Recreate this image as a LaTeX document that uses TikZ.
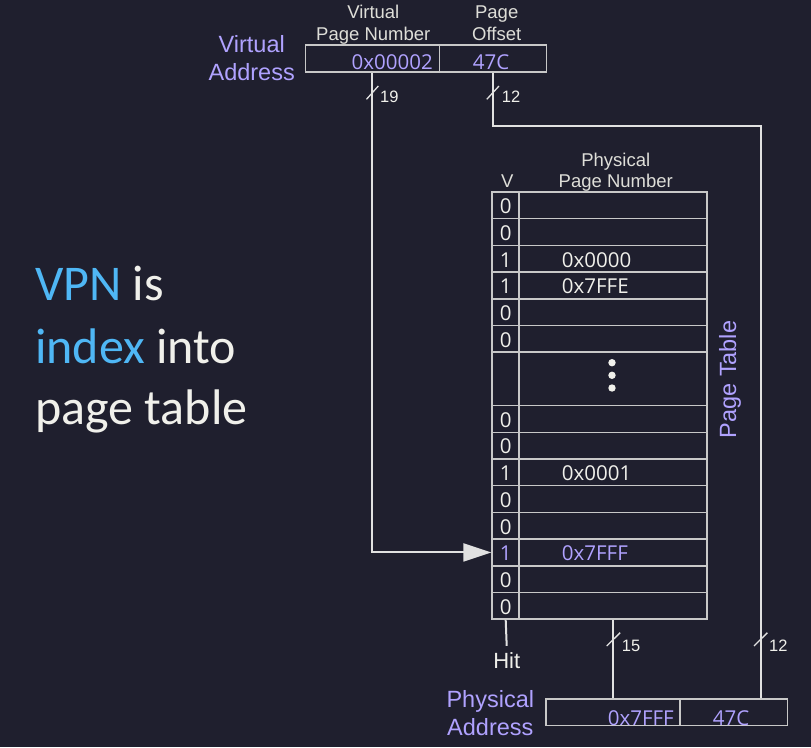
\documentclass[tikz,border=0pt]{standalone}
\usepackage{fontspec}
\setmainfont{Liberation Sans}
\newfontfamily\numfont{Open Sans}
\newfontfamily\calfont{Carlito}
\usetikzlibrary{arrows.meta}
\definecolor{bg}{RGB}{31,31,46}
\definecolor{lav}{RGB}{176,162,255}
\definecolor{vpnblue}{RGB}{79,183,245}
\definecolor{txt}{RGB}{240,240,235}
\definecolor{hdr}{RGB}{222,222,216}
\definecolor{tline}{RGB}{200,200,200}
\definecolor{cline}{RGB}{225,225,225}
\begin{document}
\begin{tikzpicture}[x=1pt,y=-1pt,
  cell/.style={draw=tline,line width=1.5pt,inner sep=0pt,minimum height=26.7pt},
  box/.style={draw=tline,line width=1.5pt,inner sep=0pt,minimum height=26.7pt},
  conn/.style={draw=cline,line width=2pt},
  slash/.style={draw=cline,line width=1.3pt},
  lab/.style={inner sep=0pt,font=\fontsize{23.5}{27}\selectfont,text=lav,align=center},
  hdrtxt/.style={inner sep=0pt,font=\fontsize{18.5}{21.5}\selectfont,text=hdr,align=center},
  num/.style={inner sep=0pt,font=\numfont\fontsize{20.5}{24}\selectfont,text=txt},
  lnum/.style={inner sep=0pt,font=\numfont\fontsize{20.5}{24}\selectfont,text=lav},
  bits/.style={inner sep=0pt,font=\fontsize{16.5}{19}\selectfont,text=txt,anchor=base west},
  big/.style={inner sep=0pt,font=\calfont\fontsize{50}{62}\selectfont,text=txt,anchor=base west}
]
\fill[bg] (0,0) rectangle (811,747);
\useasboundingbox (0,0) rectangle (811,747);

% left text
\node[big] (l1) at (35,300) {\textcolor{vpnblue}{VPN} is};
\node[big] (l2) at (35,363) {\textcolor{vpnblue}{index} into};
\node[big] (l3) at (35,424) {page table};

% virtual address
\node[lab] (valab1) at (251.7,44.5) {Virtual};
\node[lab,anchor=base] (valab) at (251.7,80) {Address};
\node[hdrtxt,anchor=base] (vpnh1) at (373.3,18.5) {Virtual};
\node[hdrtxt,anchor=base] (vpnh2) at (373.3,40) {Page Number};
\node[hdrtxt,anchor=base] (offh1) at (496.7,18.5) {Page};
\node[hdrtxt,anchor=base] (offh2) at (496.7,40) {Offset};
\node[box,minimum width=134pt] (vpnc) at (372.3,58.4) {};
\node[box,minimum width=107.3pt] (offc) at (493,58.4) {};
\node[lnum,anchor=base east] (vpnv) at (433,69) {0x00002};
\node[lnum,anchor=base] (offv) at (491,69) {47C};

% table headers
\node[hdrtxt,anchor=base] (vh) at (507.3,187.3) {V};
\node[hdrtxt,anchor=base] (ppnh1) at (615.8,166) {Physical};
\node[hdrtxt,anchor=base] (ppnh2) at (615.8,187.3) {Page Number};

% table cells
\foreach \i in {0,1,2,3,4,5,8,9,10,11,12,13,14,15}{
  \node[cell,minimum width=27pt] (v\i) at (505.7,{192+\i*26.7+13.35}) {};
  \node[cell,minimum width=188pt] (p\i) at (613,{192+\i*26.7+13.35}) {};
}
\node[cell,minimum width=27pt,minimum height=53.4pt] (vd) at (505.7,{192+6*26.7+26.7}) {};
\node[cell,minimum width=188pt,minimum height=53.4pt] (pd) at (613,{192+6*26.7+26.7}) {};
\fill[txt] (612,362.7) circle (3.7) (612,375.3) circle (3.7) (612,388) circle (3.7);

% V bits
\foreach \i/\b in {0/0,1/0,2/1,3/1,4/0,5/0,8/0,9/0,10/1,11/0,12/0,14/0,15/0}{
  \node[num,anchor=base,yshift=-8.25pt] (vt\i) at (v\i.center) {\b};
}
\node[lnum,anchor=base,yshift=-8.25pt] (vt13) at (v13.center) {1};
\node[num,anchor=base west] (pt2) at (561.7,{192+2*26.7+21.6}) {0x0000};
\node[num,anchor=base west] (pt3) at (561.7,{192+3*26.7+21.6}) {0x7FFE};
\node[num,anchor=base west] (pt10) at (561.7,{192+10*26.7+21.6}) {0x0001};
\node[lnum,anchor=base west] (pt13) at (561.7,{192+13*26.7+21.6}) {0x7FFF};

\node[lab,rotate=90,anchor=base west] (ptlab) at (736,438.5) {Page Table};

% physical address
\node[lab,anchor=base] (palab1) at (490.3,707.3) {Physical};
\node[lab,anchor=base] (palab2) at (490.3,735) {Address};
\node[box,minimum width=134pt] (ppnc) at (613,712.3) {};
\node[box,minimum width=107.7pt] (pao) at (733.8,712.3) {};
\node[lnum,anchor=base east] (ppnv) at (674,725.5) {0x7FFF};
\node[lnum,anchor=base] (paov) at (731,725.5) {47C};

% Hit
\node[inner sep=0pt,font=\fontsize{22}{26}\selectfont,text=txt,anchor=base] (hit) at (506.7,668) {Hit};

% connectors
\draw[conn,-{Triangle[length=28pt,width=18pt]}] (vpnc.south) |- (v13.west);
\coordinate (rt) at (761,126);
\draw[conn] (offc.south) |- (rt) -- (rt |- pao.north);
\draw[conn] (p15.south) -- (ppnc.north);
\draw[conn] (v15.south) -- ([yshift=6pt]hit.north);

% bus-width slashes
\draw[slash] (366.5,99.3) -- (378.3,86);
\draw[slash] (486.8,99.3) -- (499,86);
\draw[slash] (606.7,646) -- (620.2,632.7);
\draw[slash] (754,646) -- (767.4,632.7);
\node[bits] (b19) at (380,102.7) {19};
\node[bits] (b12a) at (501.7,102.7) {12};
\node[bits] (b15) at (621.7,651.7) {15};
\node[bits] (b12b) at (769,651.7) {12};
\end{tikzpicture}
\end{document}
